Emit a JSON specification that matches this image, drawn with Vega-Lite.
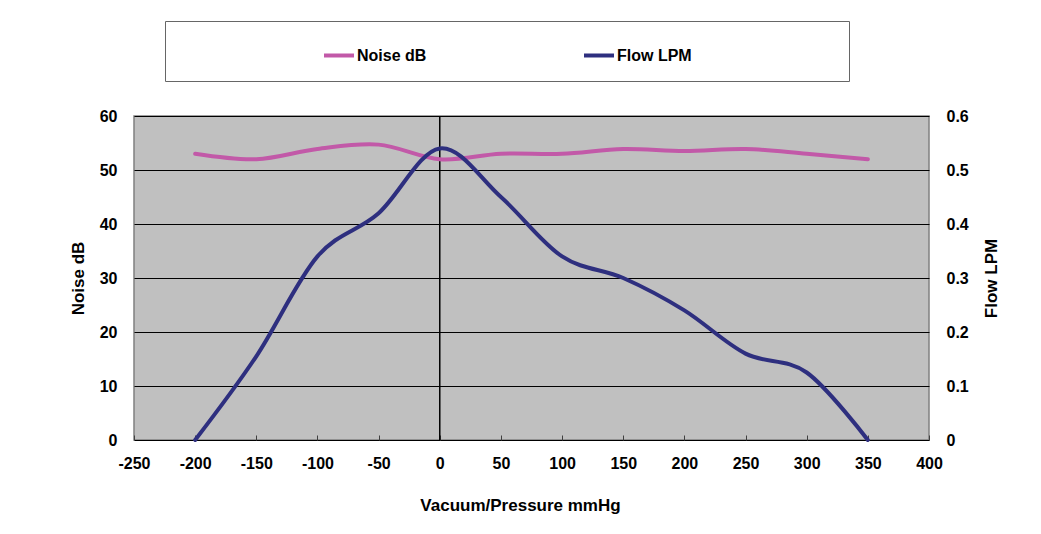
{
  "$schema": "https://vega.github.io/schema/vega-lite/v6.json",
  "autosize": "none",
  "width": 795,
  "height": 324,
  "padding": {"left": 134, "top": 116, "right": 112, "bottom": 94},
  "background": "white",
  "config": {
    "font": "Liberation Sans",
    "view": {"fill": "#C0C0C0", "stroke": "#808080", "strokeWidth": 1.5},
    "axis": {
      "labelFont": "Liberation Sans",
      "labelFontSize": 16,
      "labelFontWeight": "bold",
      "labelColor": "black",
      "titleFont": "Liberation Sans",
      "titleFontSize": 17,
      "titleFontWeight": "bold",
      "titleColor": "black",
      "domain": false
    },
    "legend": {
      "labelFont": "Liberation Sans",
      "labelFontSize": 16,
      "labelFontWeight": "bold",
      "labelColor": "black"
    }
  },
  "data": {
    "values": [
      {"pressure": -200, "series": "Noise dB", "value": 53},
      {"pressure": -150, "series": "Noise dB", "value": 52},
      {"pressure": -100, "series": "Noise dB", "value": 53.9},
      {"pressure": -50, "series": "Noise dB", "value": 54.7},
      {"pressure": 0, "series": "Noise dB", "value": 52},
      {"pressure": 50, "series": "Noise dB", "value": 53},
      {"pressure": 100, "series": "Noise dB", "value": 53},
      {"pressure": 150, "series": "Noise dB", "value": 53.9},
      {"pressure": 200, "series": "Noise dB", "value": 53.5},
      {"pressure": 250, "series": "Noise dB", "value": 53.9},
      {"pressure": 300, "series": "Noise dB", "value": 53},
      {"pressure": 350, "series": "Noise dB", "value": 52},
      {"pressure": -200, "series": "Flow LPM", "value": 0},
      {"pressure": -150, "series": "Flow LPM", "value": 0.155},
      {"pressure": -100, "series": "Flow LPM", "value": 0.34},
      {"pressure": -50, "series": "Flow LPM", "value": 0.42},
      {"pressure": 0, "series": "Flow LPM", "value": 0.54},
      {"pressure": 50, "series": "Flow LPM", "value": 0.45},
      {"pressure": 100, "series": "Flow LPM", "value": 0.34},
      {"pressure": 150, "series": "Flow LPM", "value": 0.30},
      {"pressure": 200, "series": "Flow LPM", "value": 0.24},
      {"pressure": 250, "series": "Flow LPM", "value": 0.16},
      {"pressure": 300, "series": "Flow LPM", "value": 0.125},
      {"pressure": 350, "series": "Flow LPM", "value": 0}
    ]
  },
  "encoding": {
    "x": {
      "field": "pressure",
      "type": "quantitative",
      "scale": {"domain": [-250, 400], "nice": false, "zero": false},
      "axis": {
        "title": "Vacuum/Pressure mmHg",
        "values": [-250, -200, -150, -100, -50, 0, 50, 100, 150, 200, 250, 300, 350, 400],
        "labelExpr": "'' + datum.value",
        "grid": false,
        "ticks": true,
        "tickSize": -5,
        "tickColor": "#404040",
        "labelPadding": 20,
        "titlePadding": 26,
        "titleX": 386,
        "labelFlush": false
      }
    }
  },
  "layer": [
    {
      "data": {"values": [{"pressure": 0}]},
      "mark": {"type": "rule", "color": "black", "strokeWidth": 1.5},
      "encoding": {"x": {"field": "pressure", "type": "quantitative"}}
    },
    {
      "transform": [{"filter": "datum.series === 'Noise dB'"}],
      "mark": {"type": "line", "strokeWidth": 4, "interpolate": "cardinal", "strokeCap": "round"},
      "encoding": {
        "y": {
          "field": "value",
          "type": "quantitative",
          "scale": {"domain": [0, 60], "nice": false},
          "axis": {
            "orient": "left",
            "title": "Noise dB",
            "values": [0, 10, 20, 30, 40, 50, 60],
            "grid": true,
            "gridColor": "black",
            "gridWidth": 1,
            "ticks": false,
            "labelPadding": 17,
            "titlePadding": 12
          }
        },
        "color": {
          "field": "series",
          "type": "nominal",
          "scale": {"domain": ["Noise dB", "Flow LPM"], "range": ["#C259A8", "#2E2F7F"]},
          "legend": {
            "title": " ",
            "titleOrient": "right",
            "titlePadding": 139.5,
            "orient": "none",
            "direction": "horizontal",
            "legendX": 31,
            "legendY": -95,
            "padding": 17.5,
            "strokeColor": "#666666",
            "fillColor": "white",
            "symbolType": "stroke",
            "symbolSize": 900,
            "symbolStrokeWidth": 4,
            "symbolOffset": 139.5,
            "labelOffset": 1,
            "columnPadding": 16
          }
        }
      }
    },
    {
      "transform": [{"filter": "datum.series === 'Flow LPM'"}],
      "mark": {"type": "line", "strokeWidth": 4, "interpolate": "cardinal", "strokeCap": "round"},
      "encoding": {
        "y": {
          "field": "value",
          "type": "quantitative",
          "scale": {"domain": [0, 0.6], "nice": false},
          "axis": {
            "orient": "right",
            "title": "Flow LPM",
            "titleAngle": -90,
            "values": [0, 0.1, 0.2, 0.3, 0.4, 0.5, 0.6],
            "format": ".1~f",
            "grid": false,
            "ticks": false,
            "labelPadding": 17,
            "titlePadding": 32
          }
        },
        "color": {"field": "series", "type": "nominal"}
      }
    }
  ],
  "resolve": {"scale": {"y": "independent"}}
}
